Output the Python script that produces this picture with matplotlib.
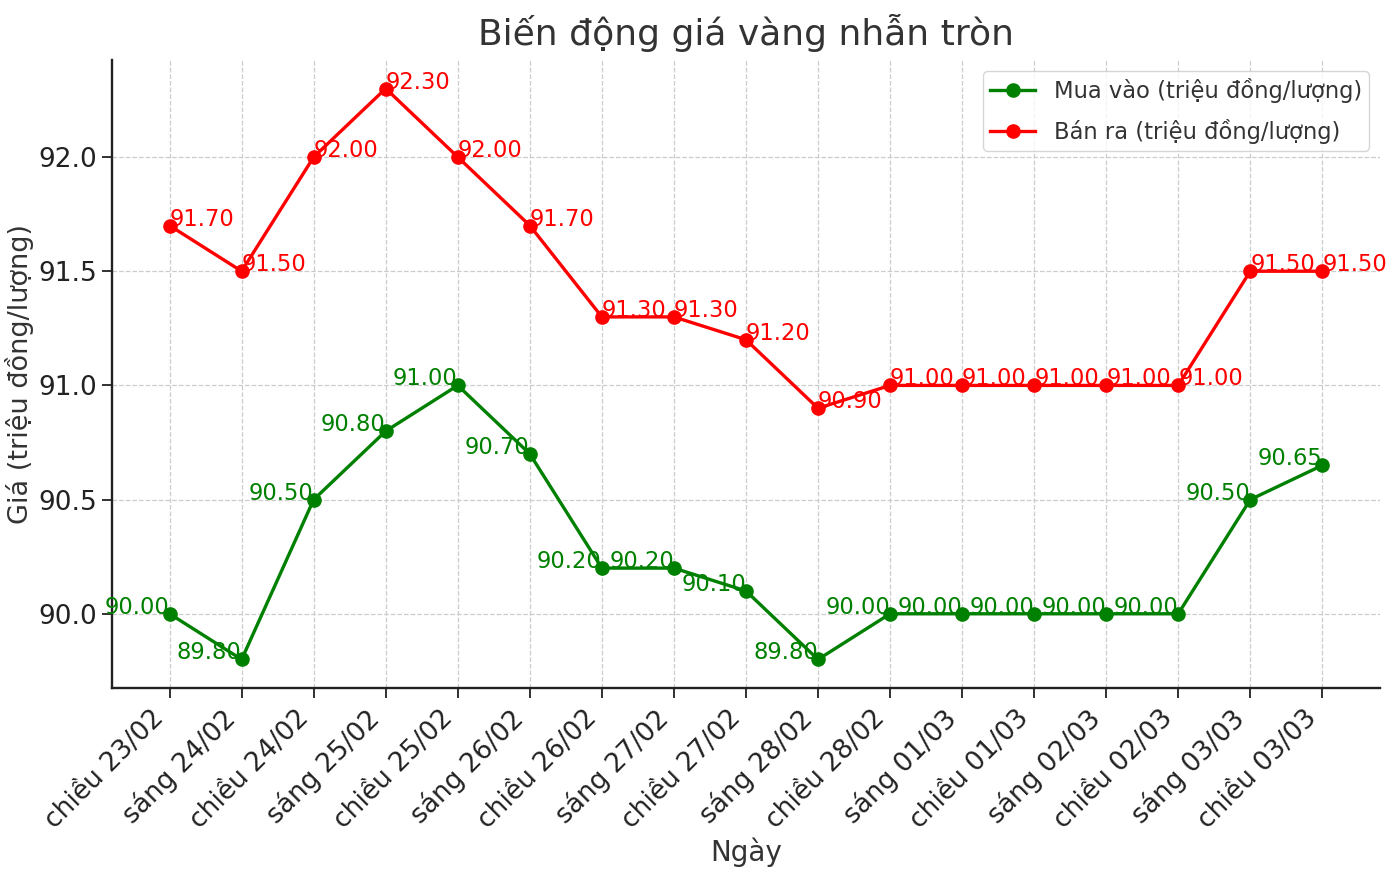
import matplotlib.pyplot as plt

# Data
dates = ['chiều 23/02', 'sáng 24/02', 'chiều 24/02', 'sáng 25/02', 'chiều 25/02',
         'sáng 26/02', 'chiều 26/02', 'sáng 27/02', 'chiều 27/02', 'sáng 28/02',
         'chiều 28/02', 'sáng 01/03', 'chiều 01/03', 'sáng 02/03', 'chiều 02/03',
         'sáng 03/03', 'chiều 03/03']
buy_prices = [90.00, 89.80, 90.50, 90.80, 91.00, 90.70, 90.20, 90.20, 90.10, 89.80,
              90.00, 90.00, 90.00, 90.00, 90.00, 90.50, 90.65]
sell_prices = [91.70, 91.50, 92.00, 92.30, 92.00, 91.70, 91.30, 91.30, 91.20, 90.90,
               91.00, 91.00, 91.00, 91.00, 91.00, 91.50, 91.50]

plt.rcParams['font.family'] = ['DejaVu Sans']
text_color = '#333333'

fig, ax = plt.subplots(figsize=(13.96, 8.77), dpi=100)
fig.subplots_adjust(left=0.0802, right=0.9885, top=0.9316, bottom=0.2155)

x = range(len(dates))
ax.plot(x, buy_prices, marker='o', color='green', linewidth=2.4, markersize=9.5,
        label='Mua vào (triệu đồng/lượng)')
ax.plot(x, sell_prices, marker='o', color='red', linewidth=2.4, markersize=9.5,
        label='Bán ra (triệu đồng/lượng)')

# Value labels
for i, v in enumerate(buy_prices):
    ax.text(i, v, f'{v:.2f}', ha='right', color='green', fontsize=16.3)
for i, v in enumerate(sell_prices):
    ax.text(i, v, f'{v:.2f}', ha='left', color='red', fontsize=16.3)

ax.set_xticks(list(x))
ax.set_xticklabels(dates, rotation=45, ha='right')
ax.tick_params(axis='both', labelsize=19, colors='#222222', length=7, width=1.3)
ax.tick_params(axis='x', pad=5)

ax.set_title('Biến động giá vàng nhẫn tròn', fontsize=26, color=text_color, pad=11)
ax.set_xlabel('Ngày', fontsize=20, color=text_color, labelpad=3)
ax.set_ylabel('Giá (triệu đồng/lượng)', fontsize=19.5, color=text_color, labelpad=3)

ax.grid(True, linestyle='--', color='#cccccc', linewidth=0.9)
ax.spines['top'].set_visible(False)
ax.spines['right'].set_visible(False)
for s in ['left', 'bottom']:
    ax.spines[s].set_linewidth(1.7)
    ax.spines[s].set_color('#222222')

leg = ax.legend(loc='upper right', fontsize=16.3, frameon=True, borderpad=0.3,
                labelspacing=0.7)
leg.get_frame().set_edgecolor('#cccccc')
for t in leg.get_texts():
    t.set_color(text_color)

fig.savefig('out.png', dpi=100)
